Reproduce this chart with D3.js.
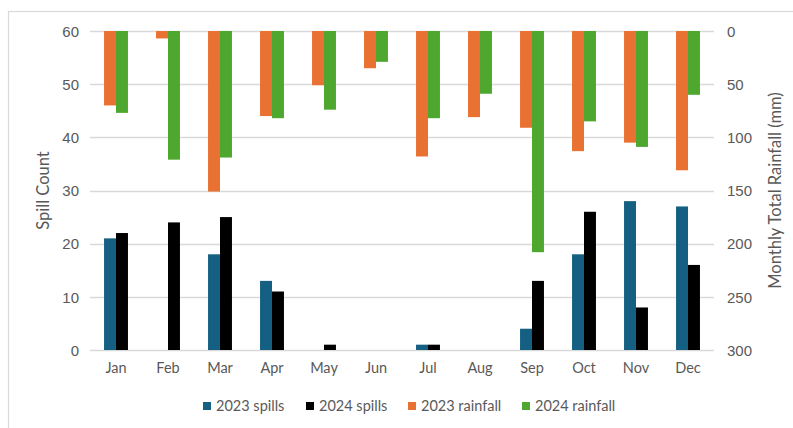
<!DOCTYPE html>
<html>
<head>
<meta charset="utf-8">
<script src="https://cdn.jsdelivr.net/npm/d3@7"></script>
<style>
  html, body { margin: 0; padding: 0; background: #fff; }
  svg { display: block; }
</style>
</head>
<body>
<svg id="chart" width="793" height="428"></svg>
<script>
// Monthly spill counts and rainfall totals, 2023 vs 2024
const months = ["Jan","Feb","Mar","Apr","May","Jun","Jul","Aug","Sep","Oct","Nov","Dec"];
const spills2023 = [21, 0, 18, 13, 0, 0, 1, 0, 4, 18, 28, 27];
const spills2024 = [22, 24, 25, 11, 1, 0, 1, 0, 13, 26, 8, 16];
const rain2023 = [70, 7, 151, 80, 51, 35, 118, 81, 91, 113, 105, 131];
const rain2024 = [77, 121, 119, 82, 74, 29, 82, 59, 208, 85, 109, 60];
const spillTicks = [0, 10, 20, 30, 40, 50, 60];
const rainTicks = [0, 50, 100, 150, 200, 250, 300];

const seriesNames = ["2023 spills", "2024 spills", "2023 rainfall", "2024 rainfall"];
const colors = {
  "2023 spills": "#156082",
  "2024 spills": "#000000",
  "2023 rainfall": "#E97132",
  "2024 rainfall": "#4EA72E"
};

const svg = d3.select("#chart");
const plotLeft = 90, plotRight = 714, plotTop = 31, plotBottom = 350;
const textColor = "#595959";
const gridColor = "#d9d9d9";
const numFont = "Liberation Sans, Arial, sans-serif";
const labelFont = "Lato, sans-serif";

// outer chart frame
svg.append("rect")
  .attr("x", 8.5).attr("y", 11.5)
  .attr("width", 800).attr("height", 430)
  .attr("fill", "none").attr("stroke", gridColor).attr("stroke-width", 1.2);

const x = d3.scaleBand().domain(months).range([plotLeft, plotRight])
  .paddingInner(0.54).paddingOuter(0.27);
const xPair = d3.scaleBand().domain([0, 1]).range([0, x.bandwidth()]);
const ySpill = d3.scaleLinear().domain([0, 60]).range([plotBottom, plotTop]);
const yRain = d3.scaleLinear().domain([0, 300]).range([plotTop, plotBottom]);

// horizontal gridlines
svg.append("g")
  .selectAll("line").data(spillTicks).join("line")
  .attr("x1", plotLeft).attr("x2", plotRight)
  .attr("y1", d => Math.round(ySpill(d)) + 0.5)
  .attr("y2", d => Math.round(ySpill(d)) + 0.5)
  .attr("stroke", gridColor).attr("stroke-width", 1.3);

// left axis (spill count)
const leftAxis = svg.append("g")
  .attr("transform", `translate(${plotLeft - 11},0)`)
  .call(d3.axisLeft(ySpill).tickValues(spillTicks).tickSize(0).tickPadding(0));
leftAxis.select(".domain").remove();
leftAxis.selectAll("text")
  .attr("fill", textColor).attr("font-family", numFont)
  .attr("font-size", 15).attr("dy", "0.35em");

// right axis (rainfall, reversed)
const rightAxis = svg.append("g")
  .attr("transform", `translate(${plotRight + 13},0)`)
  .call(d3.axisRight(yRain).tickValues(rainTicks).tickSize(0).tickPadding(0));
rightAxis.select(".domain").remove();
rightAxis.selectAll("text")
  .attr("fill", textColor).attr("font-family", numFont)
  .attr("font-size", 15).attr("dy", "0.35em");

// month labels
const bottomAxis = svg.append("g")
  .attr("transform", `translate(0,${plotBottom + 13})`)
  .call(d3.axisBottom(x).tickSize(0).tickPadding(0));
bottomAxis.select(".domain").remove();
bottomAxis.selectAll("text")
  .attr("fill", textColor).attr("font-family", labelFont)
  .attr("font-size", 14.5).attr("dy", "0.71em");

// rainfall bars hang from the top
const rainData = months.flatMap((m, i) => [
  { m, k: 0, v: rain2023[i], s: "2023 rainfall" },
  { m, k: 1, v: rain2024[i], s: "2024 rainfall" }
]);
svg.append("g").selectAll("rect").data(rainData).join("rect")
  .attr("x", d => x(d.m) + xPair(d.k))
  .attr("width", xPair.bandwidth())
  .attr("y", yRain(0))
  .attr("height", d => yRain(d.v) - yRain(0))
  .attr("fill", d => colors[d.s]);

// spill bars rise from the baseline
const spillData = months.flatMap((m, i) => [
  { m, k: 0, v: spills2023[i], s: "2023 spills" },
  { m, k: 1, v: spills2024[i], s: "2024 spills" }
]);
svg.append("g").selectAll("rect").data(spillData.filter(d => d.v > 0)).join("rect")
  .attr("x", d => x(d.m) + xPair(d.k))
  .attr("width", xPair.bandwidth())
  .attr("y", d => ySpill(d.v))
  .attr("height", d => ySpill(0) - ySpill(d.v))
  .attr("fill", d => colors[d.s]);

// axis titles
svg.append("text")
  .attr("transform", `translate(49,${(plotTop + plotBottom) / 2}) rotate(-90)`)
  .attr("text-anchor", "middle")
  .attr("fill", textColor).attr("font-family", labelFont).attr("font-size", 16.5)
  .text("Spill Count");
svg.append("text")
  .attr("transform", `translate(781,${(plotTop + plotBottom) / 2}) rotate(-90)`)
  .attr("text-anchor", "middle")
  .attr("fill", textColor).attr("font-family", labelFont).attr("font-size", 16.5)
  .text("Monthly Total Rainfall (mm)");

// legend
const legendX = [203, 306, 408, 522];
const legend = svg.append("g").selectAll("g").data(seriesNames).join("g")
  .attr("transform", (d, i) => `translate(${legendX[i]},406)`);
legend.append("rect")
  .attr("x", 0).attr("y", -4).attr("width", 8).attr("height", 8)
  .attr("fill", d => colors[d]);
legend.append("text")
  .attr("x", 13).attr("y", 0).attr("dy", "0.35em")
  .attr("fill", textColor).attr("font-family", labelFont).attr("font-size", 14.5)
  .text(d => d);
</script>
</body>
</html>
